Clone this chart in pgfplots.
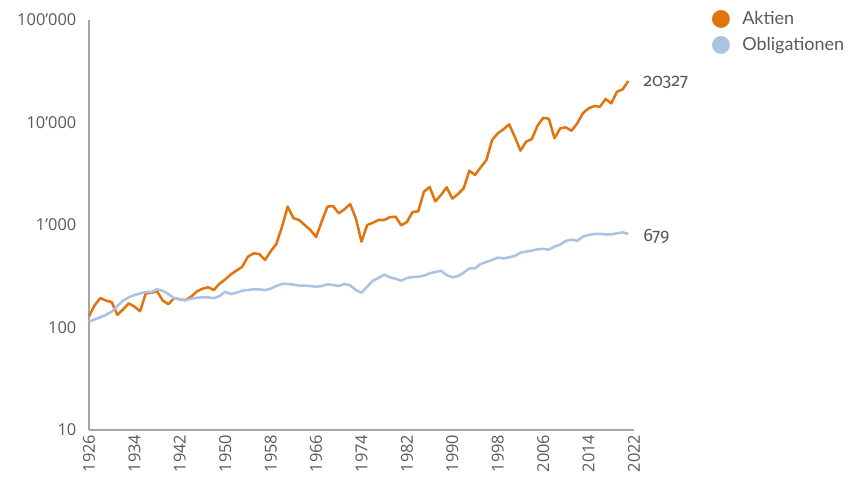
\documentclass[border=0pt]{standalone}
\usepackage{fontspec}
\usepackage{pgfplots}
\pgfplotsset{compat=1.18}
\setmainfont{Open Sans}
\newfontfamily\labfont{Lato}
\newfontfamily\numfont[Numbers=OldStyle]{Fira Sans}
\newfontfamily\symfont{DejaVu Sans}
\definecolor{aktien}{RGB}{226,116,16}
\definecolor{oblig}{RGB}{170,195,228}
\definecolor{txt}{RGB}{89,89,89}
\definecolor{axl}{RGB}{166,166,166}
\begin{document}
\begin{tikzpicture}
\begin{axis}[
  at={(66.75pt,37.5pt)}, anchor=south west,
  scale only axis, width=408.75pt, height=307.5pt,
  xmin=1926, xmax=2022, ymin=10, ymax=100000, ymode=log,
  clip=false,
  axis lines=left, axis line style={draw=axl, line width=0.8pt, -},
  major tick length=0pt, minor tick length=0pt, minor ytick={},
  xtick={1926,1934,1942,1950,1958,1966,1974,1982,1990,1998,2006,2014,2022},
  xticklabels={1926,1934,1942,1950,1958,1966,1974,1982,1990,1998,2006,2014,2022},
  ytick={10,100,1000,10000,100000},
  yticklabels={10,100,1’000,10’000,100’000},
  /pgf/number format/assume math mode=true,
  tick label style={font=\fontsize{12.3}{14}\selectfont, text=txt},
  xticklabel style={rotate=90, anchor=east},
  yticklabel style={xshift=-6pt},
]
\addplot[color=aktien, line width=1.9pt, line join=round] coordinates {
(1926,129)(1927,165)(1928,194)(1929,183)(1930,177)(1931,133)(1932,150)(1933,172)
(1934,160)(1935,144)(1936,215)(1937,218)(1938,225)(1939,183)(1940,169)(1941,194)
(1942,188)(1943,185)(1944,200)(1945,225)(1946,239)(1947,247)(1948,232)(1949,268)
(1950,295)(1951,330)(1952,360)(1953,392)(1954,491)(1955,529)(1956,521)(1957,456)
(1958,553)(1959,653)(1960,961)(1961,1511)(1962,1169)(1963,1119)(1964,1000)(1965,893)
(1966,765)(1967,1085)(1968,1510)(1969,1531)(1970,1300)(1971,1423)(1972,1603)(1973,1161)
(1974,687)(1975,1000)(1976,1052)(1977,1119)(1978,1119)(1979,1191)(1980,1205)(1981,993)
(1982,1069)(1983,1340)(1984,1360)(1985,2114)(1986,2350)(1987,1700)(1988,1963)(1989,2333)
(1990,1807)(1991,2006)(1992,2281)(1993,3388)(1994,3076)(1995,3658)(1996,4306)(1997,6745)
(1998,7833)(1999,8576)(2000,9592)(2001,7273)(2002,5313)(2003,6500)(2004,6900)(2005,9300)
(2006,11100)(2007,10890)(2008,7013)(2009,8768)(2010,8970)(2011,8313)(2012,9804)(2013,12300)
(2014,13750)(2015,14480)(2016,14250)(2017,16950)(2018,15380)(2019,19950)(2020,21070)(2021,25400)
};
\addplot[color=oblig, line width=1.9pt, line join=round] coordinates {
(1926,114)(1927,120)(1928,126)(1929,133)(1930,143)(1931,162)(1932,183)(1933,197)
(1934,207)(1935,215)(1936,222)(1937,222)(1938,236)(1939,228)(1940,212)(1941,193)
(1942,188)(1943,185)(1944,191)(1945,195)(1946,197)(1947,197)(1948,193)(1949,203)
(1950,223)(1951,212)(1952,219)(1953,229)(1954,232)(1955,236)(1956,236)(1957,232)
(1958,239)(1959,254)(1960,266)(1961,266)(1962,262)(1963,256)(1964,256)(1965,254)
(1966,250)(1967,254)(1968,264)(1969,260)(1970,254)(1971,266)(1972,258)(1973,232)
(1974,219)(1975,250)(1976,286)(1977,304)(1978,328)(1979,309)(1980,299)(1981,286)
(1982,304)(1983,311)(1984,313)(1985,321)(1986,338)(1987,348)(1988,358)(1989,325)
(1990,309)(1991,318)(1992,343)(1993,378)(1994,378)(1995,417)(1996,436)(1997,456)
(1998,480)(1999,473)(2000,484)(2001,499)(2002,537)(2003,550)(2004,562)(2005,580)
(2006,585)(2007,575)(2008,615)(2009,645)(2010,700)(2011,720)(2012,700)(2013,770)
(2014,800)(2015,817)(2016,820)(2017,810)(2018,811)(2019,830)(2020,848)(2021,817)
};
\end{axis}
\node[anchor=west, inner sep=0pt, text=txt, font=\numfont\fontsize{13.5}{15}\selectfont] at (482.25pt,298.5pt) {20327};
\node[anchor=west, inner sep=0pt, text=txt, font=\numfont\fontsize{13.5}{15}\selectfont] at (482.25pt,183pt) {679};
\node[inner sep=0pt, text=aktien, font=\symfont\fontsize{17.5}{18}\selectfont] at (540.75pt,345.75pt) {●};
\node[inner sep=0pt, text=oblig, font=\symfont\fontsize{17.5}{18}\selectfont] at (540.75pt,326.25pt) {●};
\node[anchor=base west, inner sep=0pt, text=txt, font=\labfont\fontsize{13.5}{15}\selectfont] at (556.5pt,341.5pt) {Aktien};
\node[anchor=base west, inner sep=0pt, text=txt, font=\labfont\fontsize{13.5}{15}\selectfont] at (556.5pt,322pt) {Obligationen};
\pgfresetboundingbox
\useasboundingbox (0,0) rectangle (639.75pt,360pt);
\end{tikzpicture}
\end{document}
